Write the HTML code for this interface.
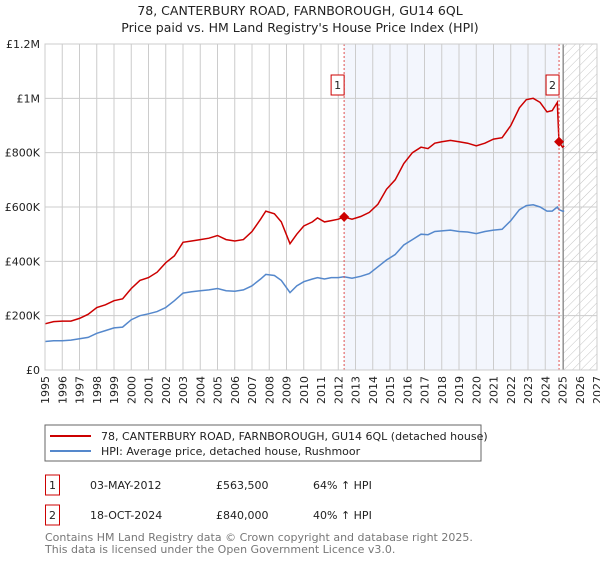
<!DOCTYPE html>
<html><head><meta charset="utf-8"><style>
body{margin:0;background:#fff;font-family:"DejaVu Sans","Liberation Sans",sans-serif;}
svg text{font-family:"DejaVu Sans","Liberation Sans",sans-serif;}
</style></head><body>
<svg id="c" width="600" height="560" xmlns="http://www.w3.org/2000/svg">
<defs><pattern id="hatch" width="6" height="6" patternUnits="userSpaceOnUse" patternTransform="rotate(45)"><line x1="0" y1="0" x2="0" y2="6" stroke="#c4c4c4" stroke-width="1"/></pattern></defs>
<text x="300" y="15" text-anchor="middle" font-size="12.5" fill="#222">78, CANTERBURY ROAD, FARNBOROUGH, GU14 6QL</text>
<text x="300" y="32" text-anchor="middle" font-size="12.5" fill="#222">Price paid vs. HM Land Registry's House Price Index (HPI)</text>
<g id="plot"></g>
<rect x="45" y="425" width="436" height="36" fill="none" stroke="#666"/>
<line x1="50" y1="436" x2="91" y2="436" stroke="#cc0000" stroke-width="2"/>
<text x="101" y="440" font-size="11" fill="#222">78, CANTERBURY ROAD, FARNBOROUGH, GU14 6QL (detached house)</text>
<line x1="50" y1="451" x2="91" y2="451" stroke="#5588cc" stroke-width="2"/>
<text x="101" y="455" font-size="11" fill="#222">HPI: Average price, detached house, Rushmoor</text>
<g font-size="11" fill="#222">
<rect x="45.5" y="475" width="14" height="20" fill="none" stroke="#cc0000"/>
<text x="52.5" y="489" text-anchor="middle">1</text>
<text x="90" y="489">03-MAY-2012</text>
<text x="216" y="489">£563,500</text>
<text x="313" y="489">64% ↑ HPI</text>
<rect x="45.5" y="505" width="14" height="20" fill="none" stroke="#cc0000"/>
<text x="52.5" y="519" text-anchor="middle">2</text>
<text x="90" y="519">18-OCT-2024</text>
<text x="216" y="519">£840,000</text>
<text x="313" y="519">40% ↑ HPI</text>
</g>
<text x="45" y="541" font-size="11" fill="#777">Contains HM Land Registry data © Crown copyright and database right 2025.</text>
<text x="45" y="553" font-size="11" fill="#777">This data is licensed under the Open Government Licence v3.0.</text>
</svg>
<script>
const years=[1995,1995.5,1996,1996.5,1997,1997.5,1998,1998.5,1999,1999.5,2000,2000.5,2001,2001.5,2002,2002.5,2003,2003.5,2004,2004.5,2005,2005.5,2006,2006.5,2007,2007.5,2007.8,2008.3,2008.7,2009.2,2009.6,2010,2010.5,2010.8,2011.2,2011.6,2012,2012.33,2012.8,2013.3,2013.8,2014.3,2014.8,2015.3,2015.8,2016.3,2016.8,2017.2,2017.6,2018,2018.5,2019,2019.5,2020,2020.5,2021,2021.5,2022,2022.5,2022.9,2023.3,2023.7,2024.1,2024.4,2024.7,2024.8,2025,2025.1];
const hpiValues=[105,108,108,110,115,120,135,145,155,158,185,200,207,215,230,255,283,288,292,295,300,292,290,295,310,335,352,348,330,285,310,325,335,340,335,340,340,343,338,345,355,380,405,425,460,480,500,498,510,512,515,510,508,502,510,515,518,550,590,605,608,600,585,585,600,590,585,585];
const priceValues=[170,178,180,180,190,205,230,240,255,262,300,330,340,360,395,420,470,475,480,485,495,480,475,480,510,555,585,575,545,465,500,530,545,560,545,550,555,563.5,555,565,580,610,665,700,760,800,820,815,835,840,845,840,835,825,835,850,855,900,965,995,1000,985,950,955,985,840,820,825];
const sales=[{t:2012.34,v:563.5,n:'1'},{t:2024.8,v:840,n:'2'}];
const yTicks=[0,200,400,600,800,1000,1200];
const yTickLabels=['£0','£200K','£400K','£600K','£800K','£1M','£1.2M'];
const xYears=[];for(let y=1995;y<=2027;y++)xYears.push(y);
const X0=45,X1=597,Y0=370,Y1=44;
const xs=t=>X0+(t-1995)/(2027-1995)*(X1-X0);
const ys=v=>Y0-v/1200*(Y0-Y1);
const NS='http://www.w3.org/2000/svg';
const g=document.getElementById('plot');
function mk(tag,attrs){const e=document.createElementNS(NS,tag);for(const k in attrs)e.setAttribute(k,attrs[k]);g.appendChild(e);return e;}
let e;
e=mk('rect',{x:xs(2012.34),y:Y1,width:xs(2024.8)-xs(2012.34),height:Y0-Y1,fill:'#f3f6fd'});


e=mk('rect',{x:xs(2025.05),y:Y1,width:X1-xs(2025.05),height:Y0-Y1,fill:'url(#hatch)'});


xYears.forEach(y=>{
 e=mk('line',{x1:xs(y),x2:xs(y),y1:Y1,y2:Y0,stroke:'#ccc','stroke-width':1});
 
 
 e=mk('text',{x:0,y:0,'font-size':11,fill:'#222','text-anchor':'end',transform:`translate(${xs(y)+4},${Y0+6}) rotate(-90)`});
 e.textContent=y;
 
 
});
yTicks.forEach((v,i)=>{
 e=mk('line',{x1:X0,x2:X1,y1:ys(v),y2:ys(v),stroke:'#ccc','stroke-width':1});
 
 
 e=mk('text',{x:40,y:ys(v)+4,'font-size':11,fill:'#222','text-anchor':'end'});
 e.textContent=yTickLabels[i];
 
 
});
e=mk('line',{x1:xs(2025.05),x2:xs(2025.05),y1:Y1,y2:Y0,stroke:'#888','stroke-width':1});


function path(vals){return vals.map((v,i)=>(i?'L':'M')+xs(years[i]).toFixed(1)+','+ys(v).toFixed(1)).join('');}
e=mk('path',{d:path(hpiValues),fill:'none',stroke:'#5588cc','stroke-width':1.5});


e=mk('path',{d:path(priceValues),fill:'none',stroke:'#cc0000','stroke-width':1.5});


sales.forEach(s=>{
 const x=xs(s.t);
 e=mk('line',{x1:x,x2:x,y1:Y1,y2:Y0,stroke:'#e05050','stroke-width':1,'stroke-dasharray':'2,2'});
 
 
 e=mk('rect',{x:x-13,y:Y1+31,width:13,height:20,fill:'#fff',stroke:'#cc0000'});
 
 
 e=mk('text',{x:x-6.5,y:Y1+45,'font-size':11,fill:'#222','text-anchor':'middle'});
 e.textContent=s.n;
 
 
 const y=ys(s.v);
 e=mk('path',{d:`M${x},${y-5}L${x+5},${y}L${x},${y+5}L${x-5},${y}Z`,fill:'#cc0000'});
 
 
});
e=mk('rect',{x:X0,y:Y1,width:X1-X0,height:Y0-Y1,fill:'none',stroke:'#ccc'});


</script>
</body></html>
